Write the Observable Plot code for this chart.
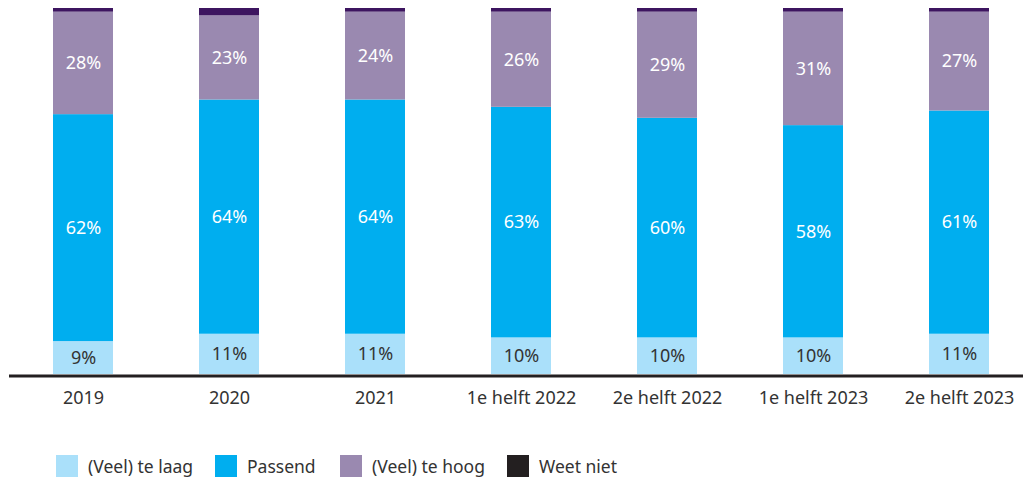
<!DOCTYPE html>
<html>
<head>
<meta charset="utf-8">
<script src="https://cdn.jsdelivr.net/npm/d3@7"></script>
<script src="https://cdn.jsdelivr.net/npm/@observablehq/plot@0.6"></script>
<style>
  html, body { margin: 0; padding: 0; background: #fff; }
  body { width: 1023px; height: 479px; overflow: hidden; font-family: "Noto Sans", sans-serif; }
  #legend { position: relative; height: 49px; color: #333; font-size: 17.5px; }
  .item { position: absolute; top: 25px; height: 22px; display: flex; align-items: center; white-space: nowrap; }
  .sw { width: 22px; height: 22px; margin-right: 10px; flex: none; }
</style>
</head>
<body>
<div id="chart"></div>
<div id="legend"></div>
<script>
const categories = ["2019", "2020", "2021", "1e helft 2022", "2e helft 2022", "1e helft 2023", "2e helft 2023"];
const seriesNames = ["(Veel) te laag", "Passend", "(Veel) te hoog", "Weet niet"];
const laag     = [9, 11, 11, 10, 10, 10, 11];
const passend  = [62, 64, 64, 63, 60, 58, 61];
const hoog     = [28, 23, 24, 26, 29, 31, 27];
const weetNiet = [1, 2, 1, 1, 1, 1, 1];
const barColors = ["#aae0fa", "#00aeef", "#9a89b0", "#3d1560"];
const legendColors = ["#aae0fa", "#00aeef", "#9a89b0", "#231f20"];

const seriesValues = [laag, passend, hoog, weetNiet];
const data = [];
categories.forEach((c, i) => {
  seriesNames.forEach((s, j) => {
    data.push({category: c, series: s, value: seriesValues[j][i]});
  });
});

const stackOpts = {x: "category", y: "value", order: seriesNames, z: "series"};

const chart = Plot.plot({
  width: 1023,
  height: 430,
  marginTop: 8,
  marginBottom: 56,
  marginLeft: 9,
  marginRight: 0,
  style: {fontFamily: "'Noto Sans', sans-serif", color: "#333", background: "white"},
  x: {domain: categories, range: [10, 1032], paddingInner: 0.589, paddingOuter: 0.2945, label: null},
  y: {domain: [0, 100], axis: null},
  color: {domain: seriesNames, range: barColors},
  marks: [
    Plot.barY(data, Plot.stackY({...stackOpts, fill: "series"})),
    Plot.text(data, Plot.stackY({...stackOpts,
      text: d => d.series === "(Veel) te laag" ? d.value + "%" : null,
      fill: "#333", fontSize: 18})),
    Plot.text(data, Plot.stackY({...stackOpts,
      text: d => (d.series === "Passend" || d.series === "(Veel) te hoog") ? d.value + "%" : null,
      fill: "white", fontSize: 18})),
    Plot.ruleY([0], {stroke: "#231f20", strokeWidth: 3, dy: 1.5}),
    Plot.axisX({tickSize: 0, tickPadding: 17, fontSize: 18, label: null})
  ]
});
document.getElementById("chart").appendChild(chart);

const legendX = [56, 215, 340, 507];
const legend = document.getElementById("legend");
seriesNames.forEach((s, i) => {
  const item = document.createElement("div");
  item.className = "item";
  item.style.left = legendX[i] + "px";
  const sw = document.createElement("span");
  sw.className = "sw";
  sw.style.background = legendColors[i];
  const t = document.createElement("span");
  t.textContent = s;
  item.appendChild(sw);
  item.appendChild(t);
  legend.appendChild(item);
});
</script>
</body>
</html>
